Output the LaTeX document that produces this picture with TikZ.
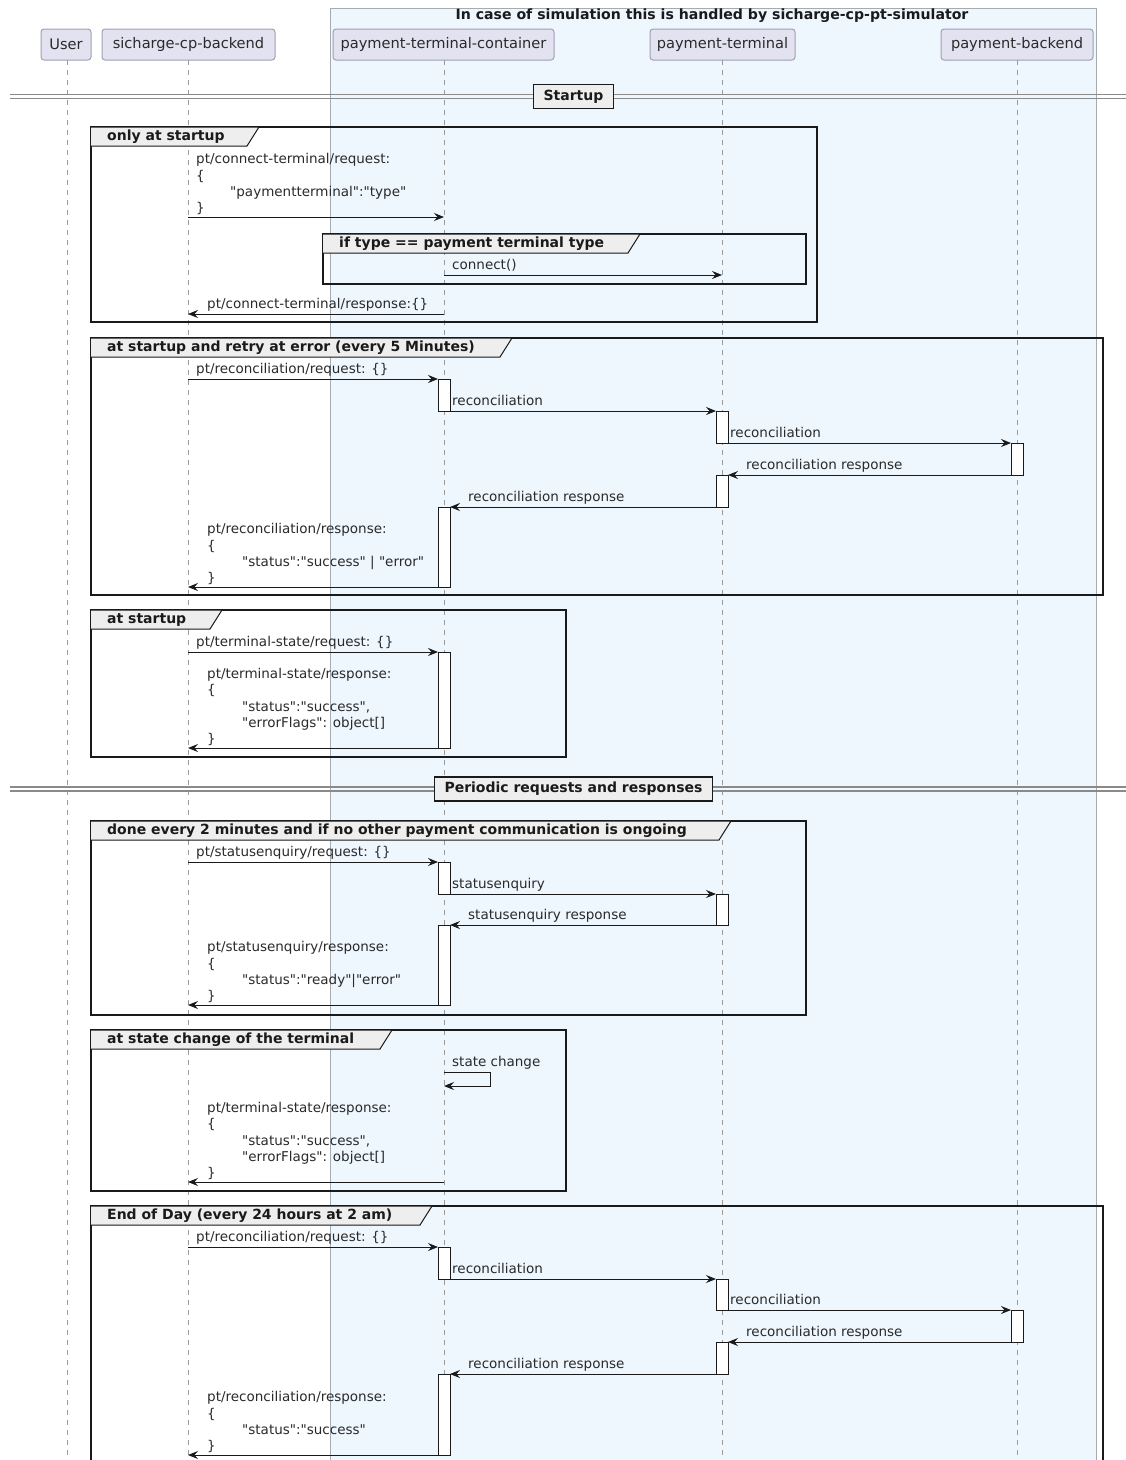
\documentclass[tikz,border=0pt]{standalone}
\usepackage{fontspec}
\setmainfont{DejaVu Sans}
\usetikzlibrary{arrows.meta}
\definecolor{partfill}{HTML}{E2E2F0}
\definecolor{partdraw}{HTML}{A0A0B4}
\definecolor{simfill}{HTML}{EEF6FE}
\definecolor{simdraw}{HTML}{A6ABB0}
\definecolor{tabfill}{HTML}{EEEEEE}
\definecolor{ink}{HTML}{1A1A1A}
\definecolor{txt}{HTML}{2A2A2A}
\definecolor{lifec}{HTML}{9A9A9A}
\definecolor{sepc}{HTML}{8A8A8A}
\newcommand\msgfont{\fontsize{13.5}{16.3}\selectfont}
\newcommand\partfont{\fontsize{14.6}{17}\selectfont}
\newcommand\boldfont{\fontsize{14}{16}\selectfont\bfseries}
\newcommand\titlefont{\fontsize{14.1}{16}\selectfont\bfseries}
\newcommand\q{\textquotedbl}
% frame: #1 name, #2 x1, #3 y1, #4 x2, #5 y2, #6 tab right, #7 title
\newcommand\sqframe[7]{%
  \draw[frameline] (#2,#3) rectangle (#4,#5);
  \path[tabshape] (#2,#3) -- (#6,#3) -- (#6-12,#3+19) -- (#2,#3+19);
  \node[tabtext] (#1) at (#2+16,#3+10) {#7};
}
% message: #1 name, #2 x1, #3 x2, #4 y
\newcommand\sqmsg[4]{%
  \coordinate (#1a) at (#2,#4);
  \coordinate (#1b) at (#3,#4);
  \draw[msg] (#1a) -- (#1b);
}
% activation: #1 name, #2 lifeline x, #3 y1, #4 y2
\newcommand\sqact[4]{%
  \node[act, minimum width=12pt, minimum height={#4-#3}, anchor=north] (#1) at (#2,#3) {};
}
% separator: #1 name, #2 y, #3 text
\newcommand\sqsep[3]{%
  \draw[sepline] (10,#2-2) -- (1126,#2-2);
  \draw[sepline] (10,#2+2) -- (1126,#2+2);
  \node[sepbox] (#1) at (573.5,#2) {#3};
}
\begin{document}
\begin{tikzpicture}[x=1pt,y=-1pt,
  part/.style={draw=partdraw, fill=partfill, rounded corners=3pt, line width=1pt, minimum height=31pt, inner sep=0pt, font=\partfont, text=txt},
  life/.style={draw=lifec, line width=0.9pt, dash pattern=on 5pt off 5pt},
  frameline/.style={draw=ink, line width=1.8pt},
  tabshape/.style={fill=tabfill, draw=ink, line width=1pt},
  tabtext/.style={anchor=west, inner sep=0pt, font=\boldfont, text=ink},
  msg/.style={draw=ink, line width=0.9pt, -{Stealth[length=10pt,width=8pt,inset=3.5pt]}},
  lbl/.style={anchor=south west, inner sep=0pt, text depth=3pt, font=\msgfont, text=txt},
  lblm/.style={anchor=south west, inner sep=0pt, font=\msgfont, text=txt, align=left},
  act/.style={draw=ink, fill=white, line width=1pt, inner sep=0pt},
  sepline/.style={draw=sepc, line width=1.4pt},
  sepbox/.style={draw=ink, fill=tabfill, line width=1.5pt, font=\boldfont, text=ink, inner xsep=10pt, inner ysep=0pt, minimum height=24pt},
]
\clip (0,0) rectangle (1126,1460);
\fill[white] (0,0) rectangle (1126,1460);

% simulation box
\draw[draw=simdraw, fill=simfill, line width=1pt] (330,8) rectangle (1096,1480);
\node[font=\titlefont, text=ink, inner sep=0pt] (simtitle) at (712,16) {In case of simulation this is handled by sicharge-cp-pt-simulator};

% participants
\node[part, minimum width=50pt] (pU) at (66,44.5) {User};
\node[part, minimum width=173pt] (pB) at (188.5,44.5) {sicharge-cp-backend};
\node[part, minimum width=221pt] (pC) at (443.5,44.5) {payment-terminal-container};
\node[part, minimum width=145pt] (pT) at (722.5,44.5) {payment-terminal};
\node[part, minimum width=152pt] (pP) at (1017,44.5) {payment-backend};

% lifelines
\coordinate (eU) at (67,1470);
\coordinate (eB) at (188,1470);
\coordinate (eC) at (444,1470);
\coordinate (eT) at (722,1470);
\coordinate (eP) at (1017,1470);
\draw[life] (67,60) -- (eU);
\draw[life] (188,60) -- (eB);
\draw[life] (444,60) -- (eC);
\draw[life] (722,60) -- (eT);
\draw[life] (1017,60) -- (eP);

% ===== Startup =====
\sqsep{sepStart}{96.5}{Startup}

% only at startup
\sqframe{fA}{91}{127}{817}{322}{259}{only at startup}
\node[lblm] (lA1) at (196,215) {pt/connect-terminal/request:\\\{\\\hspace*{34pt}\q paymentterminal\q:\q type\q\\\}};
\sqmsg{mA1}{188}{444}{217}
\sqframe{fB}{323}{234}{806}{284}{640}{if type == payment terminal type}
\node[lbl] (lA2) at (452,273) {connect()};
\sqmsg{mA2}{444}{722}{275}
\node[lbl] (lA3) at (207,312) {pt/connect-terminal/response:\{\}};
\sqmsg{mA3}{444}{188}{314}

% at startup and retry at error
\sqframe{fC}{91}{338}{1103}{595}{512}{at startup and retry at error (every 5 Minutes)}
\sqact{aC1}{444}{379}{411}
\sqact{aC2}{722}{411}{443}
\sqact{aC3}{1017}{443}{475}
\sqact{aC4}{722}{475}{507}
\sqact{aC5}{444}{507}{587}
\node[lbl] (lC1) at (196,377) {pt/reconciliation/request: \{\}};
\sqmsg{mC1}{188}{438}{379}
\node[lbl] (lC2) at (452,409) {reconciliation};
\sqmsg{mC2}{450}{716}{411}
\node[lbl] (lC3) at (730,441) {reconciliation};
\sqmsg{mC3}{728}{1011}{443}
\node[lbl] (lC4) at (746,473) {reconciliation response};
\sqmsg{mC4}{1011}{728}{475}
\node[lbl] (lC5) at (468,505) {reconciliation response};
\sqmsg{mC5}{716}{450}{507}
\node[lblm] (lC6) at (207,585) {pt/reconciliation/response:\\\{\\\hspace*{35pt}\q status\q:\q success\q{} | \q error\q\\\}};
\sqmsg{mC6}{438}{188}{587}

% at startup
\sqframe{fD}{91}{610}{566}{757}{222}{at startup}
\sqact{aD1}{444}{652}{748}
\node[lbl] (lD1) at (196,650) {pt/terminal-state/request: \{\}};
\sqmsg{mD1}{188}{438}{652}
\node[lblm] (lD2) at (207,746) {pt/terminal-state/response:\\\{\\\hspace*{35pt}\q status\q:\q success\q,\\\hspace*{35pt}\q errorFlags\q: object[]\\\}};
\sqmsg{mD2}{438}{188}{748}

% ===== Periodic =====
\sqsep{sepPer}{789}{Periodic requests and responses}

% done every 2 minutes
\sqframe{fE}{91}{821}{806}{1015}{731}{done every 2 minutes and if no other payment communication is ongoing}
\sqact{aE1}{444}{862}{894}
\sqact{aE2}{722}{894}{925}
\sqact{aE3}{444}{925}{1005}
\node[lbl] (lE1) at (196,860) {pt/statusenquiry/request: \{\}};
\sqmsg{mE1}{188}{438}{862}
\node[lbl] (lE2) at (452,892) {statusenquiry};
\sqmsg{mE2}{450}{716}{894}
\node[lbl] (lE3) at (468,923) {statusenquiry response};
\sqmsg{mE3}{716}{450}{925}
\node[lblm] (lE4) at (207,1003) {pt/statusenquiry/response:\\\{\\\hspace*{35pt}\q status\q:\q ready\q|\q error\q\\\}};
\sqmsg{mE4}{438}{188}{1005}

% at state change of the terminal
\sqframe{fF}{91}{1030}{566}{1191}{392}{at state change of the terminal}
\node[lbl] (lF1) at (452,1070) {state change};
\coordinate (sF1) at (444,1072);
\coordinate (sF2) at (490,1072);
\coordinate (sF3) at (490,1086);
\coordinate (sF4) at (444,1086);
\draw[msg] (sF1) -- (sF2) -- (sF3) -- (sF4);
\node[lblm] (lF2) at (207,1180) {pt/terminal-state/response:\\\{\\\hspace*{35pt}\q status\q:\q success\q,\\\hspace*{35pt}\q errorFlags\q: object[]\\\}};
\sqmsg{mF2}{444}{188}{1182}

% End of Day
\sqframe{fG}{91}{1206}{1103}{1480}{432}{End of Day (every 24 hours at 2 am)}
\sqact{aG1}{444}{1247}{1279}
\sqact{aG2}{722}{1279}{1310}
\sqact{aG3}{1017}{1310}{1342}
\sqact{aG4}{722}{1342}{1374}
\sqact{aG5}{444}{1374}{1455}
\node[lbl] (lG1) at (196,1245) {pt/reconciliation/request: \{\}};
\sqmsg{mG1}{188}{438}{1247}
\node[lbl] (lG2) at (452,1277) {reconciliation};
\sqmsg{mG2}{450}{716}{1279}
\node[lbl] (lG3) at (730,1308) {reconciliation};
\sqmsg{mG3}{728}{1011}{1310}
\node[lbl] (lG4) at (746,1340) {reconciliation response};
\sqmsg{mG4}{1011}{728}{1342}
\node[lbl] (lG5) at (468,1372) {reconciliation response};
\sqmsg{mG5}{716}{450}{1374}
\node[lblm] (lG6) at (207,1453) {pt/reconciliation/response:\\\{\\\hspace*{35pt}\q status\q:\q success\q\\\}};
\sqmsg{mG6}{438}{188}{1455}
\end{tikzpicture}
\end{document}
